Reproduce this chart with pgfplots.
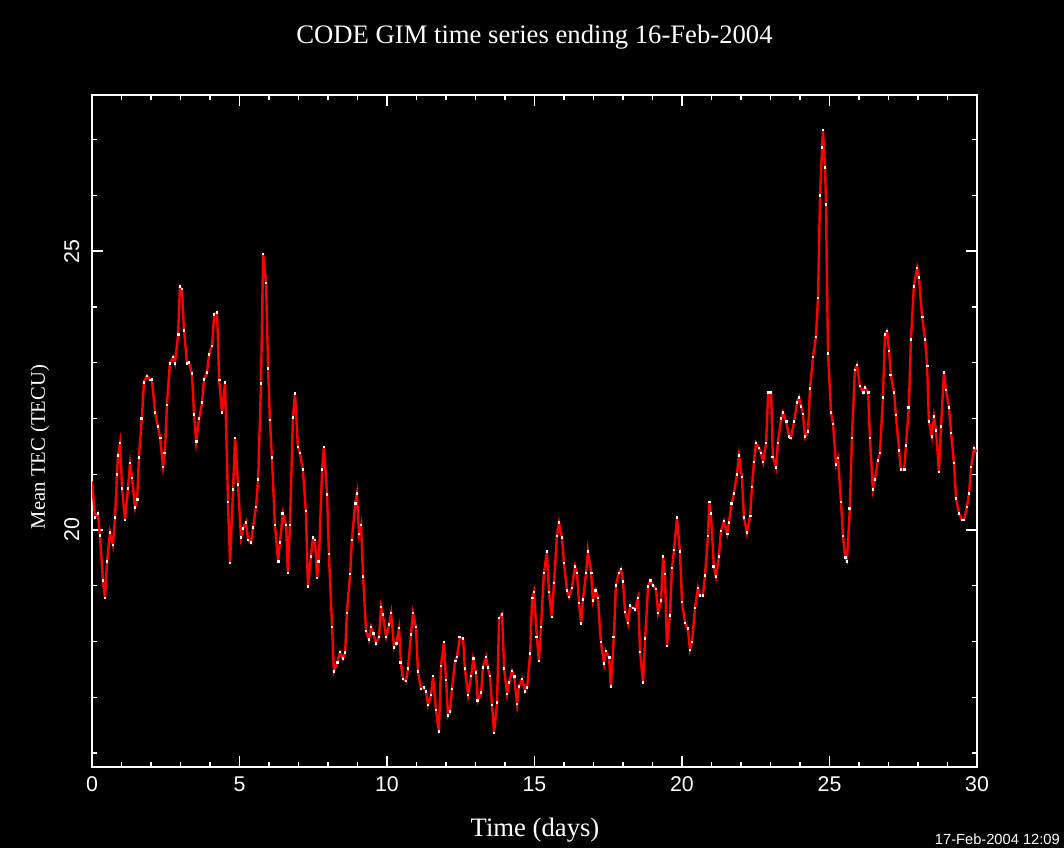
\documentclass[border=0pt]{standalone}
\usepackage{fontspec}
\setmainfont{Liberation Serif}
\newfontfamily\ticksans{Liberation Sans}
\usepackage{pgfplots}
\pgfplotsset{compat=1.18}
\usepackage{pgfplotstable}

% Mean TEC of the CODE global ionosphere maps, 2-hourly, over 30 days
\pgfplotstableread{
day tec
0.00 20.90
0.10 20.23
0.20 20.30
0.27 19.90
0.37 19.10
0.44 18.78
0.51 19.43
0.61 19.96
0.71 19.73
0.78 20.23
0.85 21.00
0.88 21.34
0.95 21.56
1.02 20.75
1.12 20.18
1.22 20.75
1.29 21.20
1.36 20.93
1.46 20.40
1.53 20.54
1.59 21.30
1.69 22.00
1.76 22.65
1.86 22.76
1.97 22.69
2.03 22.70
2.14 22.10
2.24 21.85
2.31 21.65
2.41 21.13
2.47 21.38
2.54 22.24
2.64 22.99
2.75 23.10
2.81 22.99
2.92 23.50
2.98 24.36
3.05 24.32
3.12 23.58
3.22 22.99
3.29 23.00
3.39 22.80
3.46 22.07
3.53 21.58
3.63 22.00
3.73 22.28
3.80 22.70
3.90 22.83
3.97 23.15
4.07 23.30
4.14 23.87
4.24 23.90
4.31 22.69
4.41 22.10
4.51 22.65
4.61 20.50
4.68 19.41
4.78 20.72
4.85 21.65
4.95 20.82
5.05 19.87
5.12 20.03
5.22 20.14
5.29 19.82
5.39 19.77
5.46 20.05
5.56 20.41
5.63 20.90
5.73 22.63
5.80 24.95
5.90 24.43
5.97 22.90
6.03 21.97
6.10 21.30
6.20 20.09
6.31 19.43
6.37 19.77
6.47 20.30
6.58 20.09
6.64 19.23
6.71 20.09
6.81 22.02
6.88 22.45
6.98 21.49
7.05 21.38
7.15 21.08
7.25 20.34
7.32 18.98
7.42 19.52
7.49 19.86
7.56 19.82
7.63 19.14
7.69 19.44
7.80 21.08
7.86 21.49
7.97 20.63
8.03 19.57
8.14 18.26
8.20 17.46
8.31 17.62
8.41 17.81
8.51 17.69
8.58 17.80
8.64 18.51
8.75 19.21
8.81 19.82
8.92 20.47
8.98 20.66
9.05 19.93
9.12 20.09
9.19 19.16
9.29 18.19
9.39 18.03
9.46 18.26
9.53 18.15
9.63 17.97
9.73 18.08
9.80 18.62
9.86 18.48
9.97 18.08
10.07 18.30
10.14 18.51
10.24 17.89
10.31 17.96
10.41 18.24
10.47 17.63
10.54 17.33
10.64 17.29
10.71 17.51
10.81 18.12
10.88 18.51
10.98 18.26
11.05 17.46
11.15 17.15
11.25 17.17
11.32 17.11
11.39 16.86
11.49 17.04
11.56 17.38
11.66 16.77
11.76 16.38
11.83 17.56
11.93 17.99
12.00 17.31
12.07 16.67
12.14 16.74
12.20 17.15
12.31 17.65
12.37 17.72
12.47 18.08
12.58 18.05
12.64 17.51
12.75 17.04
12.85 17.38
12.92 17.69
13.02 17.44
13.08 16.94
13.19 17.08
13.25 17.54
13.36 17.72
13.42 17.53
13.49 17.38
13.56 16.86
13.63 16.36
13.73 16.90
13.80 18.42
13.90 18.49
13.97 17.51
14.07 17.06
14.14 17.26
14.24 17.47
14.31 17.37
14.41 16.88
14.47 17.19
14.58 17.33
14.68 17.11
14.75 17.17
14.85 17.78
14.92 18.78
14.98 18.89
15.08 18.08
15.15 17.65
15.22 18.26
15.32 19.23
15.42 19.61
15.49 18.89
15.59 18.44
15.66 19.05
15.76 19.89
15.83 20.13
15.93 19.87
16.00 19.41
16.10 18.92
16.17 18.80
16.27 18.96
16.37 19.35
16.44 19.23
16.51 18.69
16.58 18.32
16.64 18.75
16.75 19.23
16.81 19.62
16.92 19.23
16.98 18.73
17.08 18.92
17.15 18.78
17.25 17.99
17.36 17.60
17.42 17.83
17.53 17.71
17.59 17.19
17.69 18.08
17.76 19.01
17.86 19.23
17.93 19.30
18.00 19.07
18.07 18.53
18.17 18.33
18.24 18.64
18.34 18.60
18.41 18.57
18.51 18.78
18.58 17.81
18.68 17.26
18.75 18.06
18.85 18.98
18.92 19.10
19.02 19.00
19.12 18.94
19.19 18.51
19.29 18.73
19.36 19.52
19.42 19.21
19.49 17.92
19.59 18.46
19.66 19.32
19.73 19.64
19.83 20.22
19.93 19.61
20.00 18.71
20.10 18.33
20.20 18.23
20.27 17.85
20.34 17.99
20.44 18.60
20.54 18.96
20.61 18.82
20.71 18.82
20.78 19.19
20.88 19.89
20.92 20.50
20.98 20.30
21.08 19.34
21.15 19.16
21.25 19.52
21.32 19.98
21.42 20.16
21.53 19.93
21.59 20.14
21.69 20.48
21.76 20.66
21.86 20.99
21.93 21.33
22.03 20.95
22.10 20.23
22.20 19.95
22.31 20.25
22.37 20.77
22.44 21.22
22.51 21.56
22.61 21.47
22.68 21.38
22.75 21.22
22.85 21.56
22.92 22.46
23.02 22.47
23.08 21.31
23.19 21.12
23.25 21.56
23.36 22.00
23.42 22.11
23.53 21.94
23.63 21.68
23.69 21.65
23.80 21.94
23.90 22.29
23.97 22.38
24.03 22.22
24.10 22.08
24.17 21.67
24.27 21.77
24.34 22.54
24.44 23.10
24.54 23.46
24.61 24.16
24.68 26.00
24.75 26.86
24.78 27.17
24.85 26.50
24.88 25.84
24.95 23.17
25.05 22.11
25.12 21.90
25.22 21.18
25.29 21.29
25.39 20.50
25.46 19.89
25.53 19.50
25.59 19.44
25.69 20.38
25.76 21.65
25.86 22.87
25.93 22.96
26.03 22.58
26.14 22.47
26.20 22.56
26.31 22.46
26.37 21.65
26.47 20.73
26.54 20.91
26.64 21.24
26.71 21.38
26.81 22.38
26.88 23.51
26.95 23.57
27.02 23.21
27.08 22.78
27.19 22.46
27.25 22.06
27.36 21.43
27.42 21.08
27.53 21.09
27.59 21.51
27.69 22.20
27.76 23.41
27.86 24.37
27.97 24.70
28.03 24.53
28.14 23.82
28.24 23.42
28.31 22.94
28.37 21.94
28.47 21.67
28.54 22.03
28.61 21.79
28.71 21.04
28.78 21.86
28.88 22.83
28.95 22.51
29.05 22.19
29.12 21.74
29.22 21.20
29.29 20.57
29.39 20.30
29.49 20.18
29.56 20.18
29.66 20.41
29.73 20.65
29.80 21.13
29.90 21.47
30.00 21.38
}\tecdata

\begin{document}
\begin{tikzpicture}
% black page
\fill[black] (-69pt,-60.75pt) rectangle (729pt,575.25pt);
\begin{axis}[
  at={(0pt,0pt)}, anchor=south west,
  width=663.75pt, height=504pt, scale only axis,
  xmin=0, xmax=30, ymin=15.75, ymax=27.8,
  axis line style={white, line width=1.3pt},
  tick style={white, line width=1pt},
  tick align=inside, tick pos=both,
  major tick length=8pt, minor tick length=4pt,
  xtick={0,5,...,30},
  minor xtick={1,2,3,4,6,7,8,9,11,12,13,14,16,17,18,19,21,22,23,24,26,27,28,29},
  ytick={20,25},
  minor ytick={16,17,18,19,21,22,23,24,26,27},
  /pgf/number format/assume math mode=true,
  ticklabel style={white, font=\ticksans\fontsize{16}{16}\selectfont},
  xticklabel shift=4pt,
  yticklabel style={rotate=90, anchor=south},
  yticklabel shift=6pt,
  title={CODE GIM time series ending 16-Feb-2004},
  title style={white, font=\fontsize{20}{20}\selectfont, at={(axis description cs:0.5,1.0744)}, anchor=center},
  xlabel={Time (days)},
  xlabel style={white, font=\fontsize{20}{20}\selectfont, at={(axis description cs:0.5006,-0.094)}, anchor=center},
  ylabel={Mean TEC (TECU)},
  ylabel style={white, font=\fontsize{15.5}{15.5}\selectfont, at={(axis description cs:-0.0588,0.476)}, anchor=center},
]
\addplot[red, line width=1.8pt, mark=square*, mark size=0.65pt,
  mark options={white, fill=white, line width=0pt}]
  table[x=day, y=tec]{\tecdata};
\end{axis}
\node[white, anchor=base east, font=\ticksans\fontsize{11}{11}\selectfont, inner sep=0pt]
  at (726pt,-58pt) {17-Feb-2004 12:09};
\end{tikzpicture}
\end{document}
